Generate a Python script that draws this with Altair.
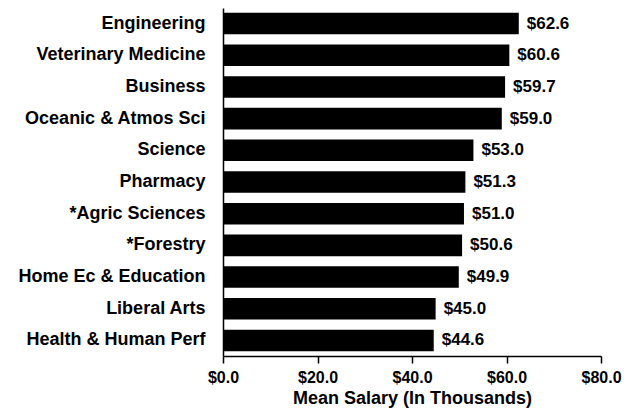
import altair as alt
import pandas as pd

colleges = ["Engineering", "Veterinary Medicine", "Business", "Oceanic & Atmos Sci",
            "Science", "Pharmacy", "*Agric Sciences", "*Forestry",
            "Home Ec & Education", "Liberal Arts", "Health & Human Perf"]
salaries = [62.6, 60.6, 59.7, 59.0, 53.0, 51.3, 51.0, 50.6, 49.9, 45.0, 44.6]
x_ticks = [0, 20, 40, 60, 80]

df = pd.DataFrame({"college": colleges, "salary": salaries})
df["label"] = df["salary"].map(lambda v: f"${v:.1f}")

FONT = "Liberation Sans"

y_enc = alt.Y("college:N", sort=colleges,
              scale=alt.Scale(paddingInner=0.32, paddingOuter=0.15),
              axis=alt.Axis(title=None, ticks=False, labelPadding=18,
                            labelFont=FONT, labelFontSize=18, labelFontWeight="bold",
                            labelColor="black", domainColor="black", domainWidth=1.5,
                            labelLimit=300))

bars = alt.Chart(df).mark_bar(color="black").encode(
    y=y_enc,
    x=alt.X("salary:Q", scale=alt.Scale(domain=[0, 80], nice=False),
            axis=alt.Axis(values=x_ticks, format="$.1f", title="Mean Salary (In Thousands)",
                          grid=False, tickSize=7, tickColor="black", tickWidth=1.5,
                          domainColor="black", domainWidth=1.5, labelFlush=False,
                          labelFont=FONT, labelFontSize=16, labelFontWeight="bold",
                          labelColor="black", labelPadding=6,
                          titleFont=FONT, titleFontSize=18, titleFontWeight="bold",
                          titleColor="black", titlePadding=4)),
)

text = alt.Chart(df).mark_text(align="left", baseline="middle", dx=8,
                               font=FONT, fontSize=17, fontWeight="bold",
                               color="black").encode(
    y=alt.Y("college:N", sort=colleges),
    x="salary:Q",
    text="label:N",
)

chart = (bars + text).properties(
    width=378, height=348,
    autosize=alt.AutoSizeParams(type="none"),
    padding={"left": 215, "top": 0, "right": 22, "bottom": 53},
).configure_view(stroke=None)

chart.save("out.html", embed_options={"renderer": "svg", "actions": False})
